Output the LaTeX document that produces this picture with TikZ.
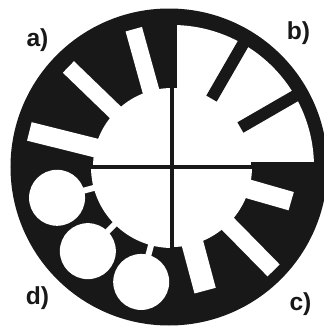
\documentclass[tikz,border=0pt]{standalone}
\usepackage{fontspec}
\setsansfont{Liberation Sans}
\definecolor{ink}{RGB}{24,24,24}

\begin{document}
\begin{tikzpicture}[x=0.03cm,y=0.03cm,
  lbl/.style={font=\fontsize{21}{21}\selectfont\sffamily\bfseries,text=ink,inner sep=0pt},
  gap/.style={fill=white},
  bar/.style={fill=ink}
]
  \useasboundingbox (-172,-160) rectangle (152,167);
  \clip (-172,-160) rectangle (152,167);
  % disc
  \fill[ink] (-3,0) circle (158.5);
  % b) open quadrant, thin ring and two bars
  \begin{scope}
    \clip (0,0) circle (142);
    \fill[gap] (5,5) rectangle (160,160);
  \end{scope}
  \fill[gap] (0,0) -- (0:79) arc (0:90:79) -- cycle;
  \foreach \ang in {30,60}
    \fill[bar,rotate=\ang] (79,-6) rectangle (145,6);
  % a) slots
  \fill[gap] (0,0) -- (90:79) arc (90:180:79) -- cycle;
  \foreach \ang/\sw/\rr in {105.5/17/143,136/16/144,166/19/147}
    \fill[gap,rotate=\ang] (60,-\sw/2) rectangle (\rr,\sw/2);
  % c) wide slots
  \fill[gap] (0,0) -- (270:80) arc (270:360:80) -- cycle;
  \foreach \ang/\sw/\rr in {-16/19/124,-45.5/17/145,-75/22/128}
    \fill[gap,rotate=\ang] (60,-\sw/2) rectangle (\rr,\sw/2);
  % d) round holes with notches
  \fill[gap] (0,0) -- (180:81) arc (180:270:81) -- cycle;
  \foreach \ang in {195,225,255} {
    \fill[gap] (\ang:119) circle (28);
    \fill[gap,rotate=\ang] (70,-3) rectangle (100,3);
  }
  % cross
  \draw[ink,line width=3.4pt] (-86,0) -- (84,0);
  \draw[ink,line width=3.4pt] (0,-84) -- (0,84);
  % labels
  \node[lbl] (la) at (-134.5,127) {a)};
  \node[lbl] (lb) at (126.5,133.5) {b)};
  \node[lbl] (lc) at (128.5,-137) {c)};
  \node[lbl] (ld) at (-134.5,-131.5) {d)};
\end{tikzpicture}
\end{document}
